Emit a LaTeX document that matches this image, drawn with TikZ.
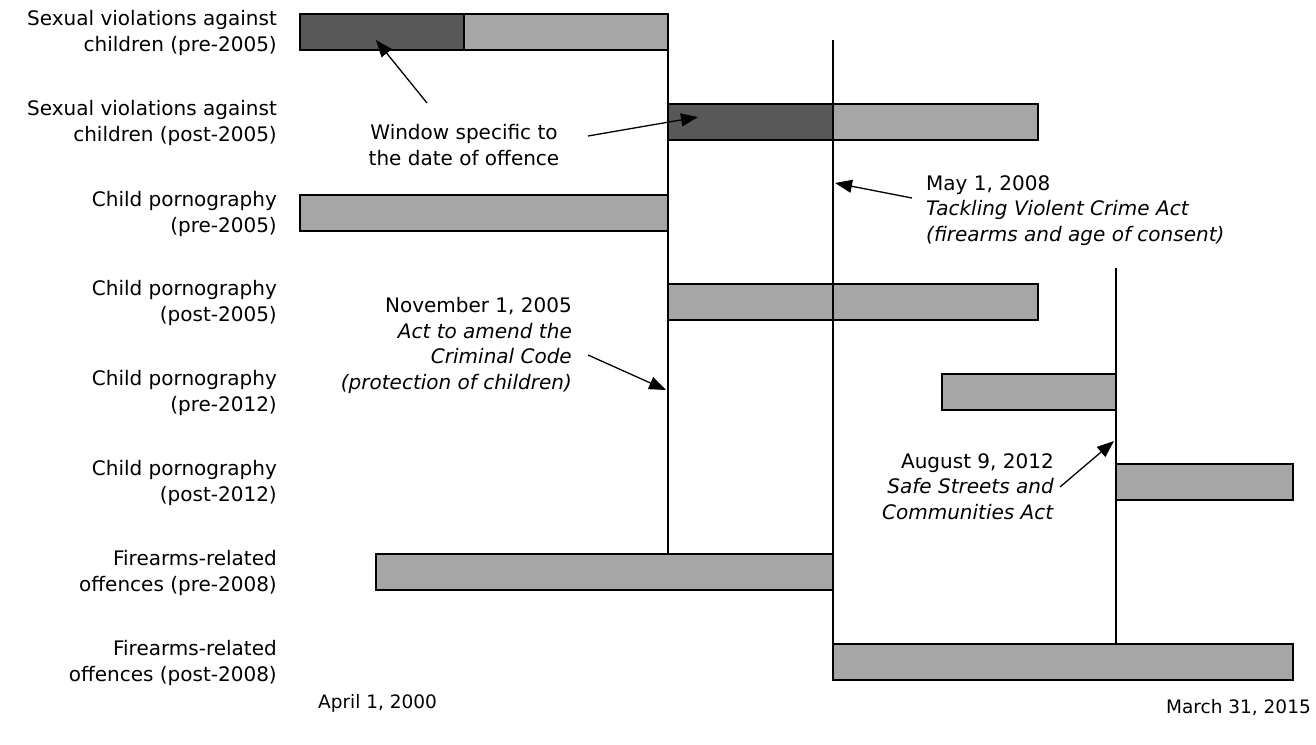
\documentclass[tikz,border=0pt]{standalone}
\usepackage{fontspec}
\setmainfont{DejaVu Sans}
\usetikzlibrary{arrows.meta}
\definecolor{lightbar}{HTML}{A6A6A6}
\definecolor{darkbar}{HTML}{585858}
\begin{document}
\begin{tikzpicture}[x=1pt,y=-1pt,
  bar/.style={draw=black, line width=1.3pt, fill=lightbar, minimum height=36pt, inner sep=0pt, outer sep=0pt, anchor=west},
  darkpart/.style={bar, fill=darkbar},
  lab/.style={font=\fontsize{20}{25.6}\selectfont, align=right, anchor=east, inner sep=0pt},
  note/.style={font=\fontsize{20}{25.6}\selectfont, inner sep=0pt},
  datefont/.style={font=\fontsize{18.5}{22}\selectfont, inner sep=0pt},
  vline/.style={line width=1.3pt},
  pointer/.style={line width=1.3pt, -{Triangle[length=17pt,width=13pt]}}]
\useasboundingbox (0,0) rectangle (1316,744);
% bars
\node[bar, minimum width=368pt] (b1) at (300,32) {};
\node[darkpart, minimum width=164pt] (b1d) at (300,32) {};
\node[bar, minimum width=370pt] (b2) at (668,122) {};
\node[darkpart, minimum width=165pt] (b2d) at (668,122) {};
\node[bar, minimum width=368pt] (b3) at (300,213) {};
\node[bar, minimum width=370pt] (b4) at (668,302) {};
\node[bar, minimum width=174pt] (b5) at (942,392) {};
\node[bar, minimum width=177pt] (b6) at (1116,482) {};
\node[bar, minimum width=457pt] (b7) at (376,572) {};
\node[bar, minimum width=460pt] (b8) at (833,662) {};
% vertical lines
\coordinate (l1t) at (668,14);
\coordinate (l1b) at (668,554);
\coordinate (l2t) at (833,40);
\coordinate (l2b) at (833,680);
\coordinate (l3t) at (1116,268);
\coordinate (l3b) at (1116,644);
\draw[vline] (l1t) -- (l1b);
\draw[vline] (l2t) -- (l2b);
\draw[vline] (l3t) -- (l3b);
% row labels
\node[lab] (r1) at (277,33) {Sexual violations against\\children (pre-2005)};
\node[lab] (r2) at (277,123) {Sexual violations against\\children (post-2005)};
\node[lab] (r3) at (277,214) {Child pornography\\(pre-2005)};
\node[lab] (r4) at (277,303) {Child pornography\\(post-2005)};
\node[lab] (r5) at (277,393) {Child pornography\\(pre-2012)};
\node[lab] (r6) at (277,483) {Child pornography\\(post-2012)};
\node[lab] (r7) at (277,573) {Firearms-related\\offences (pre-2008)};
\node[lab] (r8) at (277,663) {Firearms-related\\offences (post-2008)};
% annotations
\node[note, align=center] (win) at (464,145) {Window specific to\\the date of offence};
\node[note, align=left, anchor=north west] (may) at (926,175) {May 1, 2008\\\textit{Tackling Violent Crime Act}\\\textit{(firearms and age of consent)}};
\node[note, align=right, anchor=north east] (nov) at (572,297) {November 1, 2005\\\textit{Act to amend the}\\\textit{Criminal Code}\\\textit{(protection of children)}};
\node[note, align=right, anchor=north east] (aug) at (1054,453) {August 9, 2012\\\textit{Safe Streets and}\\\textit{Communities Act}};
\node[datefont, anchor=west] (start) at (318,703) {April 1, 2000};
\node[datefont, anchor=east] (end) at (1311,708) {March 31, 2015};
% pointers
\coordinate (p1s) at (427,103);
\coordinate (p1e) at (376,40);
\coordinate (p2s) at (588,136);
\coordinate (p2e) at (698,117);
\coordinate (p3s) at (912,198);
\coordinate (p3e) at (835,183);
\coordinate (p4s) at (588,355);
\coordinate (p4e) at (666,390);
\coordinate (p5s) at (1060,487);
\coordinate (p5e) at (1114,441);
\draw[pointer] (p1s) -- (p1e);
\draw[pointer] (p2s) -- (p2e);
\draw[pointer] (p3s) -- (p3e);
\draw[pointer] (p4s) -- (p4e);
\draw[pointer] (p5s) -- (p5e);
\end{tikzpicture}
\end{document}
